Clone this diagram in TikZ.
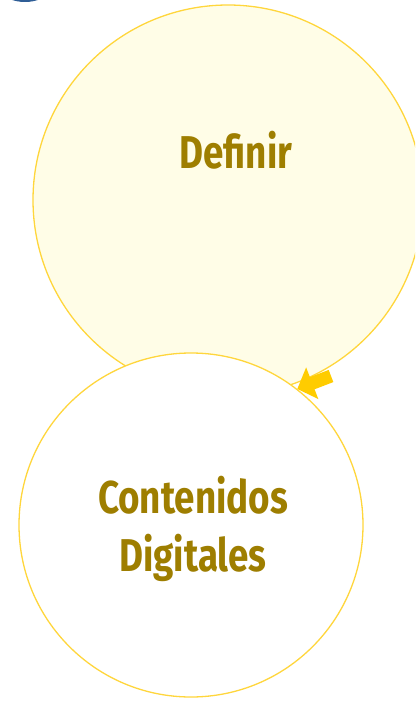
\documentclass[tikz,border=0pt]{standalone}
\usepackage{fontspec}
\setmainfont{Fira Sans}[FakeStretch=0.8]
\usepackage{tikz}
\usetikzlibrary{arrows.meta}
\definecolor{rimgold}{RGB}{255,214,60}
\definecolor{paleyellow}{RGB}{255,253,231}
\definecolor{textgold}{RGB}{158,126,0}
\definecolor{arrowgold}{RGB}{255,204,0}
\definecolor{cornerblue}{RGB}{47,94,150}

\begin{document}
\begin{tikzpicture}[x=1pt,y=-1pt,
  bubble/.style={circle, draw=rimgold, line width=1.3pt, inner sep=0pt},
  caption/.style={text=textgold, font=\bfseries\fontsize{46}{58}\selectfont, align=center},
  flowarrow/.style={arrowgold, line width=13pt, -{Triangle[width=33pt,length=16pt]}}]
\useasboundingbox (0,0) rectangle (415,701);
\clip (0,0) rectangle (415,701);

% corner of the previous step
\fill[cornerblue] (25,-40) circle (42);

\node[bubble, fill=paleyellow, minimum size=390pt] (definir) at (228,200) {};
\node[caption] (definirtext) at (236,150) {Definir};

\node[bubble, fill=white, minimum size=344pt] (contenidos) at (191,525) {};
\node[caption] (contenidostext) at (193,529) {Contenidos\\Digitales};

%\node at (228,200) {x};
\coordinate (arrowstart) at (331,376);
\draw[flowarrow] (arrowstart) -- (contenidos.52);

\end{tikzpicture}
\end{document}
